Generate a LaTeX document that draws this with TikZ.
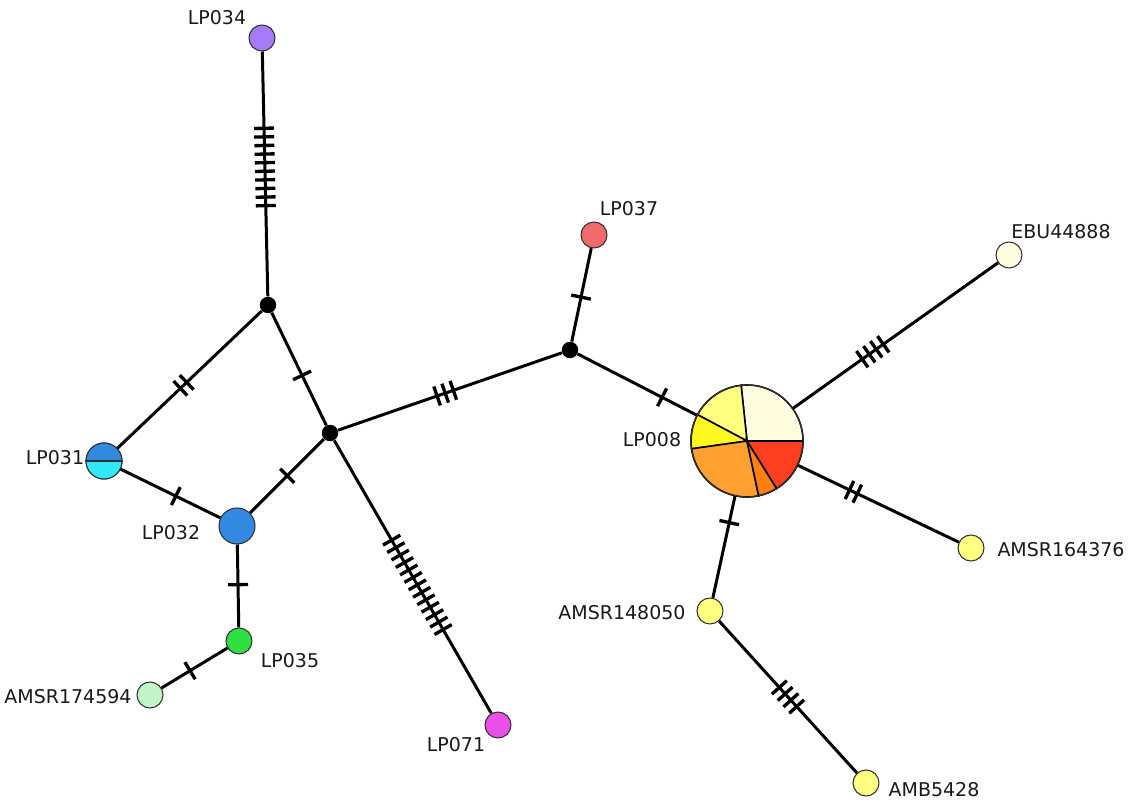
\documentclass[tikz,border=0pt]{standalone}
\usepackage{fontspec}
\setmainfont{DejaVu Sans}
\usetikzlibrary{calc}
\definecolor{hap-purple}{HTML}{A77BF5}
\definecolor{hap-salmon}{HTML}{F06A6A}
\definecolor{hap-cream}{HTML}{FFFDE0}
\definecolor{hap-lyellow}{HTML}{FFFF80}
\definecolor{hap-yellow}{HTML}{FFF820}
\definecolor{hap-orange}{HTML}{FFA030}
\definecolor{hap-dorange}{HTML}{FF7F10}
\definecolor{hap-red}{HTML}{FF4020}
\definecolor{hap-magenta}{HTML}{E850E8}
\definecolor{hap-blue}{HTML}{3388E0}
\definecolor{hap-cyan}{HTML}{30E8F8}
\definecolor{hap-green}{HTML}{30E040}
\definecolor{hap-pale}{HTML}{C0F5C8}
\definecolor{outline}{HTML}{303030}

% ticks across an edge: from, to, count, centre position
\newcommand{\mutations}[4]{%
  \coordinate (mid) at ($(#1.center)!#4!(#2.center)$);
  \foreach \k in {1,...,#3}{
    \pgfmathsetmacro\off{(\k-(#3+1)/2)*0.172}
    \coordinate (hk) at ($(mid)!\off cm!(#2.center)$);
    \draw[tick] ($(hk)!0.2cm!90:(#2.center)$) -- ($(hk)!0.2cm!-90:(#2.center)$);
  }}

\begin{document}
\begin{tikzpicture}[x=0.02cm, y=0.02cm,
    every node/.style={font=\fontsize{10.8}{13}\selectfont},
    hap/.style={circle, draw=outline, line width=0.6pt, inner sep=0pt, minimum size=0.52cm},
    median/.style={circle, fill=black, inner sep=0pt, minimum size=0.33cm},
    lab/.style={inner sep=0pt, text=black!90},
    edge/.style={line width=1.7pt},
    tick/.style={line width=1.9pt}]
  \useasboundingbox (0,0) rectangle (1129,-804);

  % median vectors
  \node[median] (m1) at (268,-305) {};
  \node[median] (m2) at (330,-433) {};
  \node[median] (m3) at (570,-350) {};

  % haplotypes
  \node[hap, fill=hap-purple] (LP034) at (262,-38) {};
  \node[hap, fill=hap-salmon] (LP037) at (594,-235) {};
  \node[hap, fill=hap-cream] (EBU44888) at (1009,-255) {};
  \node[hap, fill=hap-lyellow] (AMSR164376) at (971,-548) {};
  \node[hap, fill=hap-lyellow] (AMSR148050) at (710,-611) {};
  \node[hap, fill=hap-lyellow] (AMB5428) at (866,-783) {};
  \node[hap, fill=hap-magenta] (LP071) at (498,-725) {};
  \node[hap, minimum size=0.72cm] (LP031) at (104,-461) {};
  \node[hap, fill=hap-blue, minimum size=0.72cm] (LP032) at (237,-526) {};
  \node[hap, fill=hap-green] (LP035) at (239,-641) {};
  \node[hap, fill=hap-pale] (AMSR174594) at (150,-695) {};
  \node[hap, minimum size=2.24cm] (LP008) at (747,-441) {};

  % split and pie fills
  \fill[hap-blue] (LP031.center) -- ++(0:18) arc[start angle=0, end angle=180, radius=18] -- cycle;
  \fill[hap-cyan] (LP031.center) -- ++(180:18) arc[start angle=180, end angle=360, radius=18] -- cycle;
  \draw[outline, line width=0.9pt] (LP031.west) -- (LP031.east);
  \draw[outline, line width=0.6pt] (LP031) circle[radius=18];
  \foreach \a/\b/\c in {0/96/hap-cream, 96/152/hap-lyellow, 152/188/hap-yellow,
      188/282/hap-orange, 282/302/hap-dorange, 302/360/hap-red}
    \filldraw[fill=\c, draw=black, line width=0.9pt] (LP008.center) -- ++(\a:56)
      arc[start angle=\a, end angle=\b, radius=56] -- cycle;
  \draw[outline, line width=0.7pt] (LP008.center) circle[radius=56];

  % edges
  \draw[edge] (LP034) -- (m1);
  \draw[edge] (m1) -- (LP031);
  \draw[edge] (m1) -- (m2);
  \draw[edge] (LP031) -- (LP032);
  \draw[edge] (LP032) -- (m2);
  \draw[edge] (m2) -- (m3);
  \draw[edge] (m2) -- (LP071);
  \draw[edge] (LP032) -- (LP035);
  \draw[edge] (LP035) -- (AMSR174594);
  \draw[edge] (m3) -- (LP037);
  \draw[edge] (m3) -- (LP008);
  \draw[edge] (LP008) -- (EBU44888);
  \draw[edge] (LP008) -- (AMSR164376);
  \draw[edge] (LP008) -- (AMSR148050);
  \draw[edge] (AMSR148050) -- (AMB5428);

  % mutation steps
  \mutations{LP034}{m1}{10}{0.483}
  \mutations{m1}{LP031}{2}{0.515}
  \mutations{m1}{m2}{1}{0.55}
  \mutations{LP031}{LP032}{1}{0.54}
  \mutations{LP032}{m2}{1}{0.54}
  \mutations{m2}{m3}{3}{0.48}
  \mutations{m2}{LP071}{13}{0.52}
  \mutations{LP032}{LP035}{1}{0.51}
  \mutations{LP035}{AMSR174594}{1}{0.55}
  \mutations{m3}{LP037}{1}{0.46}
  \mutations{m3}{LP008}{1}{0.52}
  \mutations{LP008}{EBU44888}{4}{0.48}
  \mutations{LP008}{AMSR164376}{2}{0.475}
  \mutations{LP008}{AMSR148050}{1}{0.48}
  \mutations{AMSR148050}{AMB5428}{4}{0.5}

  % labels
  \node[lab] (t034) at (217,-18) {LP034};
  \node[lab] (t037) at (629,-209) {LP037};
  \node[lab] (t888) at (1061,-232) {EBU44888};
  \node[lab] (t008) at (652,-440) {LP008};
  \node[lab] (t376) at (1061,-550) {AMSR164376};
  \node[lab] (t050) at (622,-613) {AMSR148050};
  \node[lab] (t428) at (934,-790) {AMB5428};
  \node[lab] (t071) at (456,-745) {LP071};
  \node[lab] (t031) at (55,-458) {LP031};
  \node[lab] (t032) at (171,-533) {LP032};
  \node[lab] (t035) at (290,-661) {LP035};
  \node[lab] (t594) at (68,-697) {AMSR174594};
\end{tikzpicture}
\end{document}
